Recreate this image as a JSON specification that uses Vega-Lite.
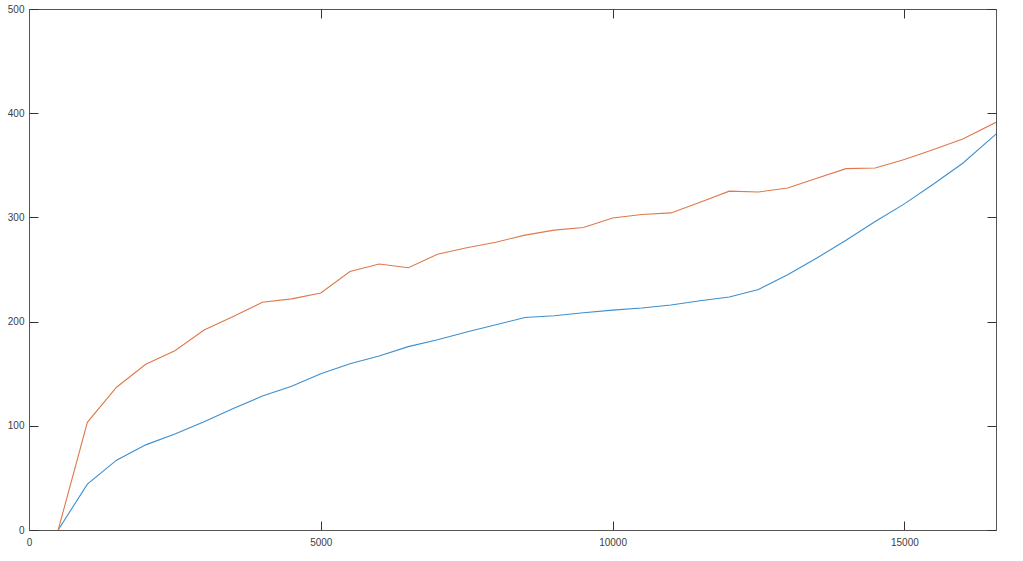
{
  "$schema": "https://vega.github.io/schema/vega-lite/v6.json",
  "autosize": {"type": "none"},
  "padding": {"left": 29, "top": 9, "right": 27, "bottom": 31},
  "width": 967,
  "height": 521,
  "background": "white",
  "config": {
    "view": {"stroke": "#555555", "strokeWidth": 1},
    "axis": {
      "grid": false,
      "domainColor": "#555555",
      "domainWidth": 1,
      "tickColor": "#333333",
      "tickWidth": 1,
      "tickSize": -9,
      "labelFont": "Liberation Sans",
      "labelFontSize": 10,
      "labelColor": "#404040",
      "labelFlush": false,
      "format": "d",
      "title": null
    }
  },
  "data": {
    "values": [
      {"x": 500, "s": "A", "v": 0}, {"x": 1000, "s": "A", "v": 44}, {"x": 1500, "s": "A", "v": 67},
      {"x": 2000, "s": "A", "v": 81.7}, {"x": 2500, "s": "A", "v": 92.2}, {"x": 3000, "s": "A", "v": 104},
      {"x": 3500, "s": "A", "v": 116.5}, {"x": 4000, "s": "A", "v": 128.5}, {"x": 4500, "s": "A", "v": 138},
      {"x": 5000, "s": "A", "v": 150}, {"x": 5500, "s": "A", "v": 159.5}, {"x": 6000, "s": "A", "v": 167},
      {"x": 6500, "s": "A", "v": 176}, {"x": 7000, "s": "A", "v": 182.5}, {"x": 7500, "s": "A", "v": 190},
      {"x": 8000, "s": "A", "v": 197}, {"x": 8500, "s": "A", "v": 204}, {"x": 9000, "s": "A", "v": 205.6},
      {"x": 9500, "s": "A", "v": 208.5}, {"x": 10000, "s": "A", "v": 211}, {"x": 10500, "s": "A", "v": 213},
      {"x": 11000, "s": "A", "v": 216}, {"x": 11500, "s": "A", "v": 220}, {"x": 12000, "s": "A", "v": 223.6},
      {"x": 12500, "s": "A", "v": 230.8}, {"x": 13000, "s": "A", "v": 245}, {"x": 13500, "s": "A", "v": 261},
      {"x": 14000, "s": "A", "v": 278}, {"x": 14500, "s": "A", "v": 296}, {"x": 15000, "s": "A", "v": 313},
      {"x": 15500, "s": "A", "v": 332}, {"x": 16000, "s": "A", "v": 352}, {"x": 16570, "s": "A", "v": 380},
      {"x": 500, "s": "B", "v": 0}, {"x": 1000, "s": "B", "v": 103.3}, {"x": 1500, "s": "B", "v": 137},
      {"x": 2000, "s": "B", "v": 159}, {"x": 2500, "s": "B", "v": 172}, {"x": 3000, "s": "B", "v": 192},
      {"x": 3500, "s": "B", "v": 205}, {"x": 4000, "s": "B", "v": 218.6}, {"x": 4500, "s": "B", "v": 221.8},
      {"x": 5000, "s": "B", "v": 227.4}, {"x": 5500, "s": "B", "v": 248}, {"x": 6000, "s": "B", "v": 255.3},
      {"x": 6500, "s": "B", "v": 251.7}, {"x": 7000, "s": "B", "v": 264.6}, {"x": 7500, "s": "B", "v": 270.8},
      {"x": 8000, "s": "B", "v": 276.2}, {"x": 8500, "s": "B", "v": 283}, {"x": 9000, "s": "B", "v": 287.8},
      {"x": 9500, "s": "B", "v": 290.3}, {"x": 10000, "s": "B", "v": 299.4}, {"x": 10500, "s": "B", "v": 302.8},
      {"x": 11000, "s": "B", "v": 304.3}, {"x": 11500, "s": "B", "v": 314.5}, {"x": 12000, "s": "B", "v": 325.2},
      {"x": 12500, "s": "B", "v": 324.4}, {"x": 13000, "s": "B", "v": 328.2}, {"x": 13500, "s": "B", "v": 337.5},
      {"x": 14000, "s": "B", "v": 346.8}, {"x": 14500, "s": "B", "v": 347.4}, {"x": 15000, "s": "B", "v": 355.5},
      {"x": 15500, "s": "B", "v": 365.1}, {"x": 16000, "s": "B", "v": 375.3}, {"x": 16570, "s": "B", "v": 391.3}
    ]
  },
  "resolve": {"axis": {"x": "independent", "y": "independent"}},
  "layer": [
    {
      "transform": [{"filter": "datum.s === 'A'"}],
      "mark": {"type": "line", "color": "#3d8fcf", "strokeWidth": 1.1, "clip": true},
      "encoding": {
        "x": {"field": "x", "type": "quantitative", "scale": {"domain": [0, 16570], "nice": false, "zero": false},
              "axis": {"orient": "bottom", "values": [0, 5000, 10000, 15000], "labelPadding": 16, "format": "d", "labelFlush": false}},
        "y": {"field": "v", "type": "quantitative", "scale": {"domain": [0, 500], "nice": false},
              "axis": {"orient": "left", "values": [0, 100, 200, 300, 400, 500], "labelPadding": 14, "format": "d", "labelFlush": false}}
      }
    },
    {
      "transform": [{"filter": "datum.s === 'B'"}],
      "mark": {"type": "line", "color": "#e0784a", "strokeWidth": 1.1, "clip": true},
      "encoding": {
        "x": {"field": "x", "type": "quantitative", "scale": {"domain": [0, 16570], "nice": false, "zero": false},
              "axis": {"orient": "top", "values": [0, 5000, 10000, 15000], "labels": false, "domain": false}},
        "y": {"field": "v", "type": "quantitative", "scale": {"domain": [0, 500], "nice": false},
              "axis": {"orient": "right", "values": [0, 100, 200, 300, 400, 500], "labels": false, "domain": false}}
      }
    }
  ]
}
